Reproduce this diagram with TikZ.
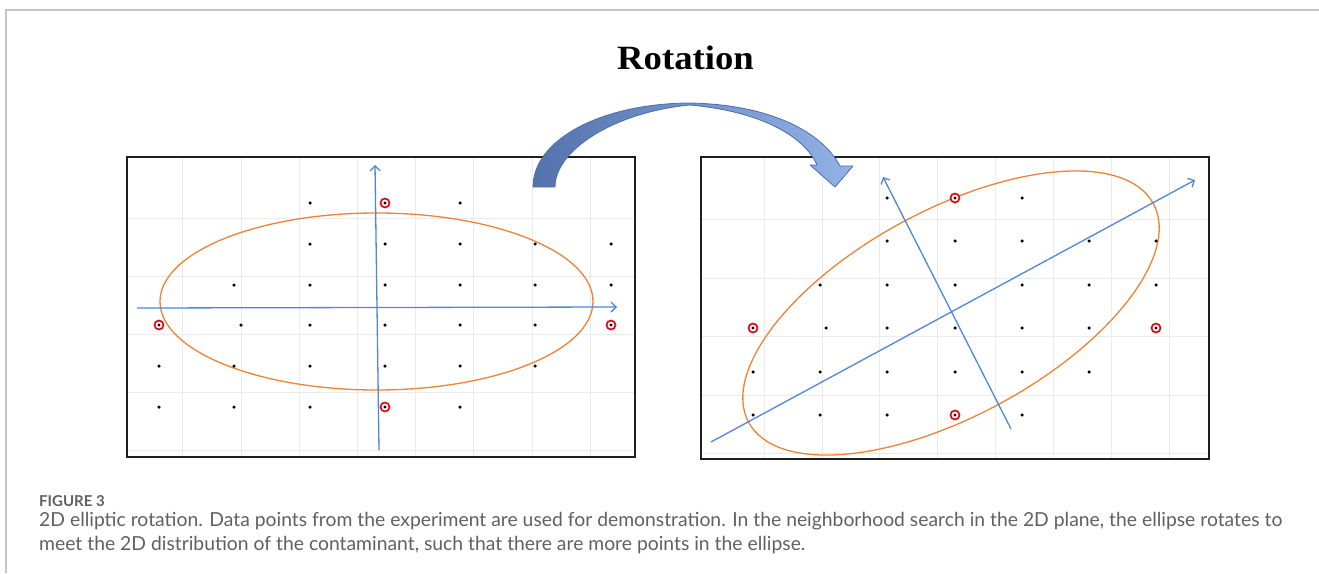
\documentclass[tikz,border=0pt]{standalone}
\usepackage{fontspec}
\setmainfont{Liberation Serif}
\newfontfamily\capfont{Lato}
\usetikzlibrary{arrows.meta}
\definecolor{axisblue}{HTML}{4F86D9}
\definecolor{ellorange}{HTML}{EE8236}
\definecolor{gridgray}{HTML}{EBEBEB}
\definecolor{framegray}{HTML}{C4C4C4}
\definecolor{capgray}{HTML}{606060}
\definecolor{arrdark}{HTML}{5572AC}
\definecolor{arrlight}{HTML}{92B3E6}
\definecolor{arrline}{HTML}{4A6DB3}
\definecolor{ringred}{HTML}{E30613}
\newlength\capw
\newcommand{\capone}{2D elliptic rotation. Data points from the experiment are used for demonstration. In the neighborhood search in the 2D plane, the ellipse rotates to}
\newcommand{\captwo}{meet the 2D distribution of the contaminant, such that there are more points in the ellipse.}
\begin{document}
\settowidth\capw{\capfont\fontsize{10}{12}\selectfont\capone}
\pgfmathsetmacro\capfs{10*1243/\capw}
\begin{tikzpicture}[x=1pt,y=-1pt,
  dot/.style={circle,fill=black,inner sep=0pt,minimum size=3.5pt},
  redpt/.style={circle,draw=ringred,line width=1.7pt,fill=white,inner sep=0pt,minimum size=9pt,
    path picture={\fill[black] (path picture bounding box.center) circle (1.6pt);}},
  gridline/.style={draw=gridgray,line width=1pt},
  panel/.style={draw=black!88,line width=1.6pt},
  axisline/.style={draw=axisblue,line width=1.3pt,-{Straight Barb[length=5pt,width=10pt]}},
  ell/.style={draw=ellorange,line width=1.3pt},
  capstyle/.style={anchor=base west,inner sep=0pt,text=capgray,font=\capfont\fontsize{\capfs}{24}\selectfont}
]
\useasboundingbox (0,0) rectangle (1319,573);
% outer figure frame
\draw[framegray,line width=1.5pt] (6,573) -- (6,10) -- (1319,10);

% title
\node[anchor=base,inner sep=0pt] (title) at (685.5,69)
  {\scalebox{1.08}[1]{\fontsize{34}{40}\selectfont\bfseries Rotation}};

% ---------- left panel ----------
\foreach \x in {182,241,299,357,415,473,532,590}
  \draw[gridline] (\x,158) -- (\x,456);
\foreach \y in {218,276,334,392,450}
  \draw[gridline] (128,\y) -- (634,\y);
\draw[ell] (376.5,301.5) ellipse [x radius=216.5, y radius=88.5];
\coordinate (lh1) at (137,308);
\coordinate (lh2) at (617,307);
\coordinate (lv1) at (379,450);
\coordinate (lv2) at (375,165);
\draw[axisline] (lh1) -- (lh2);
\draw[axisline] (lv1) -- (lv2);
\foreach \x/\y [count=\i] in {310/203,460/203,
  310/244,385/244,460/244,535/244,611/244,
  234/285,310/285,385/285,460/285,535/285,611/285,
  241/325,310/325,385/325,460/325,535/325,
  159/366,234/366,310/366,385/366,460/366,535/366,
  159/407,234/407,310/407,460/407}
  \node[dot] (L\i) at (\x,\y) {};
\foreach \x/\y [count=\i] in {385/203,159/325,611/325,385/407}
  \node[redpt] (LR\i) at (\x,\y) {};
\draw[panel] (127,157) rectangle (635,457);

% ---------- right panel ----------
\foreach \x in {764,822,879,937,995,1053,1111,1169}
  \draw[gridline] (\x,158) -- (\x,458);
\foreach \y in {219,278,336,395,453}
  \draw[gridline] (702,\y) -- (1208,\y);
\draw[ell,rotate around={28.4:(951,313)}] (951,313) ellipse [x radius=230, y radius=103];
\coordinate (rh1) at (711,442);
\coordinate (rh2) at (1195,180);
\coordinate (rv1) at (1011,429);
\coordinate (rv2) at (883,177);
\draw[axisline] (rh1) -- (rh2);
\draw[axisline] (rv1) -- (rv2);
\foreach \x/\y [count=\i] in {887/198,1022/198,
  887/241,955/241,1022/241,1089/241,1156/241,
  820/285,887/285,955/285,1022/285,1089/285,1156/285,
  826/328,887/328,955/328,1022/328,1089/328,
  753/372,820/372,887/372,955/372,1022/372,1089/372,
  753/415,820/415,887/415,1022/415}
  \node[dot] (R\i) at (\x,\y) {};
\foreach \x/\y [count=\i] in {955/198,753/328,1156/328,955/415}
  \node[redpt] (RR\i) at (\x,\y) {};
\draw[panel] (701,157) rectangle (1209,459);

% ---------- curved rotation arrow ----------
\shade[left color=arrdark,right color=arrlight,draw=arrline,line width=0.8pt,line join=round]
  (533,187) .. controls (533,140) and (600,104) .. (688,103)
  .. controls (770,104) and (822,132) .. (840,166)
  -- (853,166) -- (835,187) -- (810,165) -- (817,165)
  .. controls (805,138) and (765,112) .. (690,105)
  .. controls (615,112) and (555,150) .. (555,187) -- cycle;

% ---------- caption ----------
\node[anchor=base west,inner sep=0pt,text=capgray,font=\capfont\fontsize{15}{17}\selectfont\bfseries] (figlabel) at (39,506) {FIGURE 3};
\node[capstyle] (cap1) at (39,526) {\capone};
\node[capstyle] (cap2) at (39,550) {\captwo};
\end{tikzpicture}
\end{document}
